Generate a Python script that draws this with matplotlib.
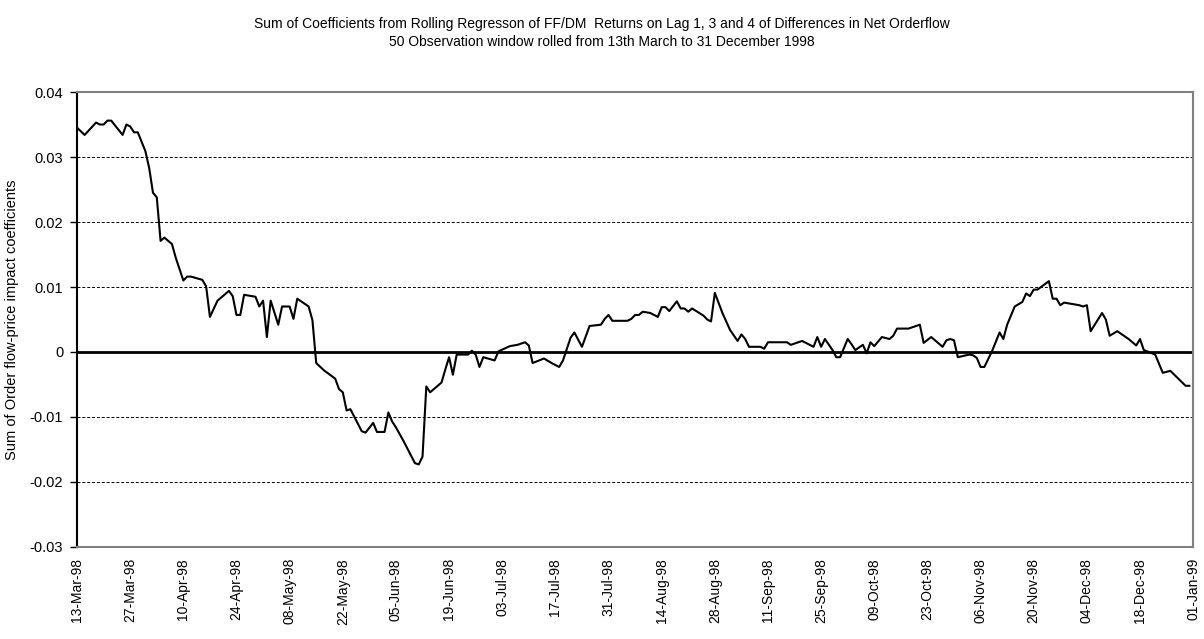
import numpy as np
import matplotlib
matplotlib.use('Agg')
import matplotlib.pyplot as plt
import pandas as pd

plt.rcParams['font.family'] = ['Liberation Sans', 'DejaVu Sans']

# Vertices
dates = [
    '1998-03-13', '1998-03-15', '1998-03-18', '1998-03-19', '1998-03-20', '1998-03-21',
    '1998-03-22', '1998-03-25', '1998-03-26', '1998-03-27', '1998-03-28', '1998-03-29',
    '1998-03-31', '1998-04-01', '1998-04-02', '1998-04-03', '1998-04-04', '1998-04-05',
    '1998-04-07', '1998-04-08', '1998-04-10', '1998-04-11', '1998-04-12', '1998-04-15',
    '1998-04-16', '1998-04-17', '1998-04-19', '1998-04-22', '1998-04-23', '1998-04-24',
    '1998-04-25', '1998-04-26', '1998-04-29', '1998-04-30', '1998-05-01', '1998-05-02',
    '1998-05-03', '1998-05-05', '1998-05-06', '1998-05-08', '1998-05-09', '1998-05-10',
    '1998-05-13', '1998-05-14', '1998-05-15', '1998-05-17', '1998-05-20', '1998-05-21',
    '1998-05-22', '1998-05-23', '1998-05-24', '1998-05-27', '1998-05-28', '1998-05-30',
    '1998-05-31', '1998-06-02', '1998-06-03', '1998-06-04', '1998-06-05', '1998-06-07',
    '1998-06-10', '1998-06-11', '1998-06-12', '1998-06-13', '1998-06-14', '1998-06-17',
    '1998-06-18', '1998-06-19', '1998-06-20', '1998-06-21', '1998-06-24', '1998-06-25',
    '1998-06-26', '1998-06-27', '1998-06-28', '1998-07-01', '1998-07-02', '1998-07-05',
    '1998-07-07', '1998-07-09', '1998-07-10', '1998-07-11', '1998-07-14', '1998-07-16',
    '1998-07-18', '1998-07-19', '1998-07-21', '1998-07-22', '1998-07-24', '1998-07-26',
    '1998-07-29', '1998-07-30', '1998-07-31', '1998-08-01', '1998-08-05', '1998-08-06',
    '1998-08-07', '1998-08-08', '1998-08-09', '1998-08-11', '1998-08-13', '1998-08-14',
    '1998-08-15', '1998-08-16', '1998-08-18', '1998-08-19', '1998-08-20', '1998-08-21',
    '1998-08-22', '1998-08-25', '1998-08-26', '1998-08-27', '1998-08-28', '1998-08-30',
    '1998-09-01', '1998-09-03', '1998-09-04', '1998-09-05', '1998-09-06', '1998-09-09',
    '1998-09-10', '1998-09-11', '1998-09-16', '1998-09-17', '1998-09-20', '1998-09-23',
    '1998-09-24', '1998-09-25', '1998-09-26', '1998-09-28', '1998-09-29', '1998-09-30',
    '1998-10-02', '1998-10-03', '1998-10-04', '1998-10-06', '1998-10-07', '1998-10-08',
    '1998-10-09', '1998-10-11', '1998-10-13', '1998-10-14', '1998-10-15', '1998-10-18',
    '1998-10-21', '1998-10-22', '1998-10-24', '1998-10-27', '1998-10-28', '1998-10-29',
    '1998-10-30', '1998-10-31', '1998-11-03', '1998-11-04', '1998-11-05', '1998-11-06',
    '1998-11-07', '1998-11-09', '1998-11-11', '1998-11-12', '1998-11-13', '1998-11-15',
    '1998-11-17', '1998-11-18', '1998-11-19', '1998-11-20', '1998-11-21', '1998-11-24',
    '1998-11-25', '1998-11-26', '1998-11-27', '1998-11-28', '1998-12-02', '1998-12-03',
    '1998-12-04', '1998-12-05', '1998-12-08', '1998-12-09', '1998-12-10', '1998-12-12',
    '1998-12-15', '1998-12-17', '1998-12-18', '1998-12-19', '1998-12-22', '1998-12-24',
    '1998-12-26', '1998-12-30', '1998-12-31',
]
coef_sum = [
    0.0345, 0.0334, 0.0353, 0.0350, 0.0350, 0.0356,
    0.0356, 0.0334, 0.0350, 0.0347, 0.0338, 0.0338,
    0.0309, 0.0283, 0.0245, 0.0238, 0.0171, 0.0176,
    0.0166, 0.0145, 0.0110, 0.0116, 0.0116, 0.0111,
    0.0101, 0.0054, 0.0079, 0.0094, 0.0086, 0.0057,
    0.0057, 0.0088, 0.0085, 0.0070, 0.0079, 0.0023,
    0.0079, 0.0042, 0.0070, 0.0070, 0.0051, 0.0082,
    0.0070, 0.0049, -0.0017, -0.0028, -0.0041, -0.0057,
    -0.0062, -0.0090, -0.0088, -0.0122, -0.0124, -0.0109,
    -0.0123, -0.0123, -0.0093, -0.0107, -0.0116, -0.0137,
    -0.0171, -0.0173, -0.0161, -0.0053, -0.0062, -0.0047,
    -0.0027, -0.0008, -0.0035, -0.0004, -0.0004, 0.0002,
    -0.0004, -0.0023, -0.0008, -0.0013, 0.0001, 0.0009,
    0.0011, 0.0015, 0.0010, -0.0017, -0.0010, -0.0017,
    -0.0023, -0.0013, 0.0022, 0.0030, 0.0008, 0.0040,
    0.0042, 0.0051, 0.0057, 0.0048, 0.0048, 0.0051,
    0.0057, 0.0057, 0.0062, 0.0060, 0.0054, 0.0069,
    0.0069, 0.0063, 0.0078, 0.0067, 0.0067, 0.0062,
    0.0067, 0.0056, 0.0050, 0.0047, 0.0091, 0.0060,
    0.0034, 0.0017, 0.0027, 0.0020, 0.0008, 0.0008,
    0.0005, 0.0015, 0.0015, 0.0011, 0.0017, 0.0008,
    0.0023, 0.0008, 0.0020, 0.0003, -0.0008, -0.0008,
    0.0020, 0.0012, 0.0003, 0.0011, -0.0002, 0.0015,
    0.0009, 0.0023, 0.0020, 0.0025, 0.0036, 0.0036,
    0.0042, 0.0014, 0.0023, 0.0008, 0.0018, 0.0020,
    0.0018, -0.0008, -0.0004, -0.0005, -0.0009, -0.0023,
    -0.0023, 0.0001, 0.0030, 0.0020, 0.0042, 0.0070,
    0.0077, 0.0090, 0.0086, 0.0096, 0.0096, 0.0109,
    0.0082, 0.0082, 0.0072, 0.0076, 0.0072, 0.0070,
    0.0072, 0.0032, 0.0060, 0.0050, 0.0025, 0.0032,
    0.0020, 0.0010, 0.0020, 0.0003, -0.0004, -0.0032,
    -0.0029, -0.0052, -0.0052,
]
ytick_vals = [-0.03, -0.02, -0.01, 0, 0.01, 0.02, 0.03, 0.04]
ytick_labels = ['-0.03', '-0.02', '-0.01', '0', '0.01', '0.02', '0.03', '0.04']

x = pd.to_datetime(dates)
start = pd.Timestamp('1998-03-13')
end = pd.Timestamp('1999-01-01')

fig = plt.figure(figsize=(12.04, 6.39), dpi=100)
ax = fig.add_axes([0.064, 0.144, 0.927, 0.712])

# dashed gridlines and the zero line
for yv in [0.03, 0.02, 0.01, -0.01, -0.02]:
    ax.axhline(yv, color='black', lw=0.7, linestyle=(0, (3, 2)), zorder=1)
ax.axhline(0, color='black', lw=2, zorder=2)

ax.plot(x, coef_sum, color='black', lw=1.5, zorder=3)

ax.set_xlim(start, end)
ax.set_ylim(-0.03, 0.04)
ax.set_yticks(ytick_vals)
ax.set_yticklabels(ytick_labels)

xt = pd.date_range(start, end, freq='14D')
ax.set_xticks(xt)
ax.set_xticklabels([d.strftime('%d-%b-%y') for d in xt], rotation=90)
ax.tick_params(axis='x', length=0, pad=8, labelsize=10)
ax.tick_params(axis='y', length=5, width=1, direction='out', pad=5, labelsize=10.5)

for s in ['top', 'right', 'bottom']:
    ax.spines[s].set_color('#808080')
    ax.spines[s].set_linewidth(1.5)
ax.spines['left'].set_color('black')
ax.spines['left'].set_linewidth(1.5)

ax.set_ylabel('Sum of Order flow-price impact coefficients', fontsize=10.5, labelpad=8)

fig.text(0.5, 0.963, 'Sum of Coefficients from Rolling Regresson of FF/DM  Returns on Lag 1, 3 and 4 of Differences in Net Orderflow',
         ha='center', va='center', fontsize=10)
fig.text(0.5, 0.935, '50 Observation window rolled from 13th March to 31 December 1998',
         ha='center', va='center', fontsize=10)

plt.savefig('out.png', dpi=100)
